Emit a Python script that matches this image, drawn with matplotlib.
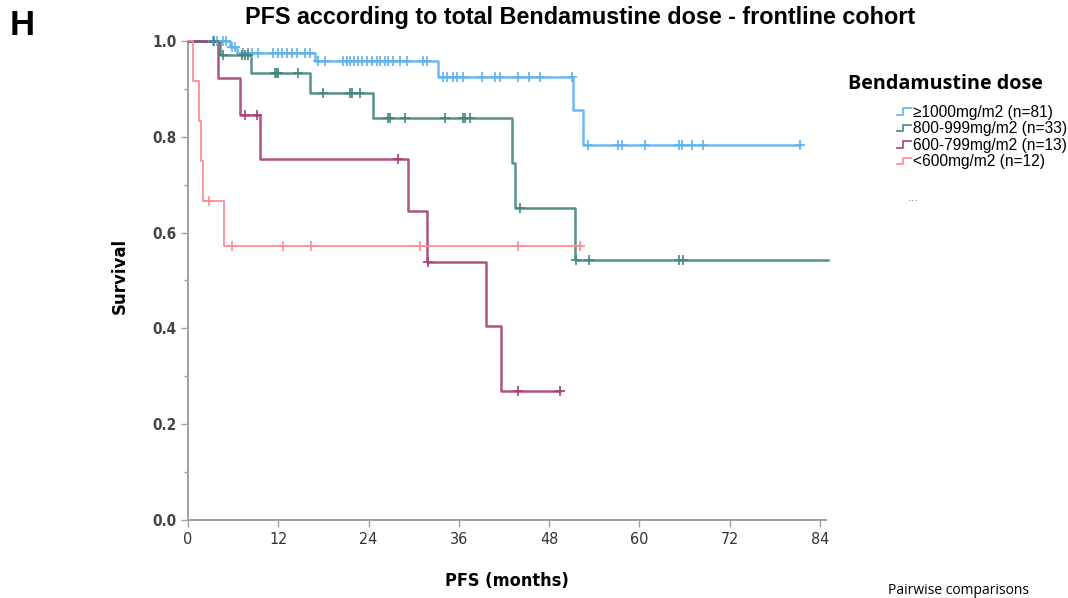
import numpy as np
import matplotlib
matplotlib.use('Agg')
import matplotlib.pyplot as plt
from matplotlib.lines import Line2D
from matplotlib.legend_handler import HandlerBase
from matplotlib.ticker import MultipleLocator, FormatStrFormatter

# Kaplan-Meier curves (months, survival)
labels = ['≥1000mg/m2 (n=81)', '800-999mg/m2 (n=33)', '600-799mg/m2 (n=13)', '<600mg/m2 (n=12)']
colors = ['#5fb2ee', '#43857f', '#a83f76', '#ff8a90']

blue_t = [5.6, 6.5, 16.9, 33.2, 51.2, 52.5]
blue_s = [0.988, 0.975, 0.958, 0.925, 0.856, 0.783]
blue_cens = [3.3, 3.9, 4.6, 5.1, 5.9, 6.2, 7.3, 8.0, 8.5, 9.3, 11.3, 12.0, 12.5, 13.2,
             13.8, 14.5, 15.6, 16.2, 17.3, 18.2, 20.6, 21.1, 21.5, 22.0, 22.6, 23.1,
             23.8, 24.5, 25.1, 25.5, 26.2, 26.6, 27.3, 28.2, 29.1, 31.2, 31.8, 33.9,
             34.4, 35.2, 35.8, 36.6, 39.1, 40.8, 41.5, 43.9, 45.3, 46.8, 51.1, 53.2,
             57.2, 57.7, 60.8, 65.2, 65.7, 67.0, 68.4, 81.4]
blue_end = 81.4

teal_t = [4.3, 8.4, 16.2, 24.6, 43.0, 43.4, 51.5]
teal_s = [0.970, 0.934, 0.891, 0.839, 0.745, 0.651, 0.543]
teal_cens = [3.4, 4.7, 7.2, 7.6, 8.0, 11.6, 11.8, 12.0, 14.6, 18.0, 21.5, 21.8, 22.9,
             26.6, 26.9, 28.9, 34.2, 36.6, 36.8, 37.5, 44.1, 51.6, 53.3, 65.2, 65.8]
teal_end = 85

purple_t = [4.0, 6.9, 9.6, 29.3, 31.8, 39.6, 41.6]
purple_s = [0.923, 0.846, 0.754, 0.646, 0.538, 0.404, 0.269]
purple_cens = [7.6, 9.2, 27.9, 31.9, 43.9, 49.5]
purple_end = 49.5

red_t = [0.6, 1.4, 1.7, 2.0, 4.8]
red_s = [0.917, 0.833, 0.75, 0.667, 0.572]
red_cens = [2.8, 5.8, 12.6, 16.3, 30.9, 43.8, 52.1]
red_end = 52.1

groups = [(blue_t, blue_s, blue_cens, blue_end),
          (teal_t, teal_s, teal_cens, teal_end),
          (purple_t, purple_s, purple_cens, purple_end),
          (red_t, red_s, red_cens, red_end)]
widths = [1.8, 1.8, 1.8, 1.4]

xticks = [0, 12, 24, 36, 48, 60, 72, 84]

fig = plt.figure(figsize=(10.68, 5.98), dpi=100)
ax = fig.add_axes([188/1068, 1 - 520/598, 638/1068, 479/598])

handles = []
for (t, s, cens, end), col, lab, lw in zip(groups, colors, labels, widths):
    xs = [0] + t + [end]
    ys = [1.0] + s + [s[-1]]
    ax.step(xs, ys, where='post', color=col, lw=lw, alpha=0.9, clip_on=False, zorder=3)
    # censor marks sit on the curve
    idx = np.searchsorted(t, cens, side='right')
    lev = np.array([1.0] + s)[idx]
    ax.plot(cens, lev, '+', color=col, ms=7, mew=1.2, clip_on=False, zorder=4)
    handles.append(Line2D([], [], color=col, label=lab))

ax.set_xlim(0, 84.8)
ax.set_ylim(0, 1.0)
ax.set_xticks(xticks)
ax.yaxis.set_major_locator(MultipleLocator(0.2))
ax.yaxis.set_minor_locator(MultipleLocator(0.1))
ax.yaxis.set_major_formatter(FormatStrFormatter('%.1f'))
for sp in ['top', 'right']:
    ax.spines[sp].set_visible(False)
for sp in ['left', 'bottom']:
    ax.spines[sp].set_color('#a0a0a0')
    ax.spines[sp].set_linewidth(1.4)
ax.tick_params(which='both', color='#a0a0a0', width=1, length=5)
ax.tick_params(which='minor', length=3)
for lab in ax.get_xticklabels():
    lab.set_family('DejaVu Sans')
    lab.set_stretch('condensed')
    lab.set_fontsize(11.5)
    lab.set_color('#333333')
for lab in ax.get_yticklabels():
    lab.set_family('DejaVu Sans')
    lab.set_stretch('condensed')
    lab.set_fontweight('bold')
    lab.set_fontsize(11)
    lab.set_color('#444444')

ax.set_xlabel('PFS (months)', fontsize=13, fontweight='bold', stretch='condensed', labelpad=18)
ax.set_ylabel('Survival', fontsize=12, fontweight='bold')
ax.yaxis.set_label_coords(-0.093, 0.51)

fig.text(0.543, 0.970, 'PFS according to total Bendamustine dose - frontline cohort',
         ha='center', va='center', fontsize=16.8, fontweight='bold', family='Liberation Sans')
fig.text(0.009, 0.957, 'H', fontsize=25, fontweight='bold', va='center', family='Liberation Sans')


class StepHandler(HandlerBase):
    def create_artists(self, legend, orig_handle, xdescent, ydescent, width, height, fontsize, trans):
        x = np.array([0, 0.45, 0.45, 1.0]) * width - xdescent
        y = np.array([0.2, 0.2, 0.8, 0.8]) * height - ydescent
        return [Line2D(x, y, color=orig_handle.get_color(), lw=1.2, transform=trans)]


fig.text(848/1068, 1 - 84/598, 'Bendamustine dose', fontsize=14.2, fontweight='bold',
         va='center', family='Open Sans')
leg = fig.legend(handles=handles, loc='upper left', bbox_to_anchor=(889/1068, 1 - 97/598),
                 frameon=False, fontsize=11.2, handlelength=0.9, handletextpad=0.15,
                 labelspacing=0.1, borderpad=0, handler_map={Line2D: StepHandler()})
for txt in leg.get_texts():
    txt.set_family('Liberation Sans')
fig.text(908/1068, 1 - 198/598, '...', fontsize=8, color='#777777', va='center')
fig.text(888/1068, 1 - 590/598, 'Pairwise comparisons', fontsize=10, va='center',
         family='Open Sans')

fig.savefig('out.png', dpi=100)
